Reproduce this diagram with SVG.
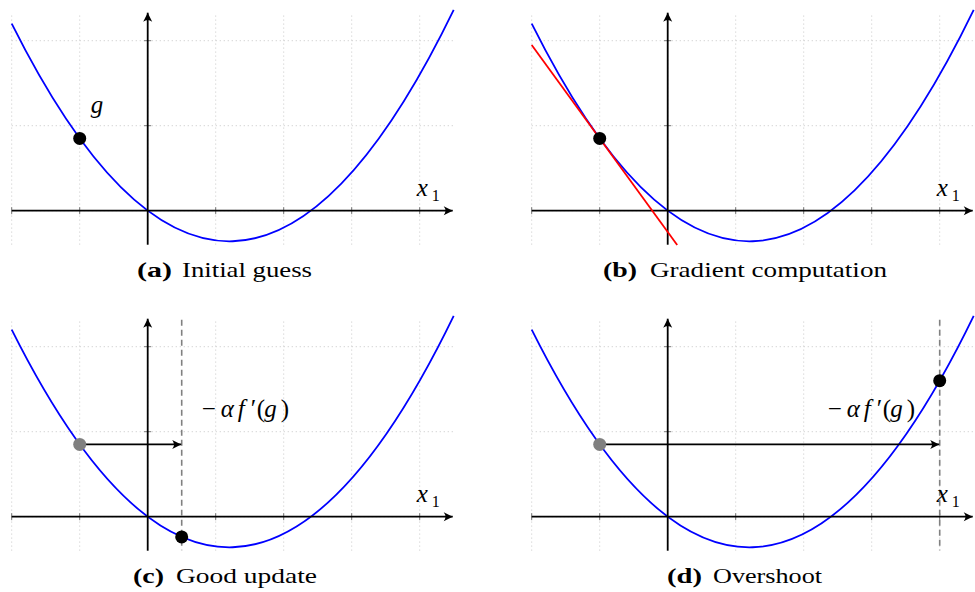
<svg xmlns="http://www.w3.org/2000/svg" width="975" height="592" viewBox="0 0 975 592">
<style>
.grid{stroke:#c4c4c4;stroke-width:0.8;stroke-dasharray:1.2 2.8;fill:none}
.axis{stroke:#000;stroke-width:1.8;fill:none}
.tick{stroke:#555;stroke-width:0.8}
.curve{stroke:#0000ff;stroke-width:1.8;fill:none}
.tan{stroke:#ff0000;stroke-width:1.8;fill:none}
.dash{stroke:#808080;stroke-width:1.6;stroke-dasharray:6 4;fill:none}
.step{stroke:#000;stroke-width:1.8;fill:none}
.math{font-family:"Liberation Serif","Times New Roman",serif;font-style:italic;font-size:25px;fill:#000}
.rm{font-style:normal}
.sub{font-family:"Liberation Serif","Times New Roman",serif;font-size:16px;fill:#000}
.cap{font-family:"Liberation Serif","Times New Roman",serif;font-size:22px;fill:#000}
.capb{font-family:"Liberation Serif","Times New Roman",serif;font-size:22px;font-weight:bold;fill:#000}
</style>
<defs>
<marker id="ah" viewBox="-10 -5 11 10" refX="0.5" refY="0" markerWidth="11" markerHeight="10" orient="auto" markerUnits="userSpaceOnUse">
<path d="M0.5,0 L-8.5,-4.5 Q-5,0 -8.5,4.5 Z" fill="#000"/>
</marker>
<g id="grid">
<path class="grid" d="M-136,34V-196 M-68,34V-196 M0,34V-196 M68,34V-196 M136,34V-196 M204,34V-196 M272,34V-196 M-136,-85H306 M-136,-170H306 M-136,0H306"/>
</g>
<g id="axes">
<path class="tick" d="M-136,-3.5V3.5 M-68,-3.5V3.5 M68,-3.5V3.5 M136,-3.5V3.5 M204,-3.5V3.5 M272,-3.5V3.5 M-3.5,-85H3.5 M-3.5,-170H3.5"/>
<line class="axis" x1="-136" y1="0" x2="305" y2="0" marker-end="url(#ah)"/>
<line class="axis" x1="0" y1="34" x2="0" y2="-198" marker-end="url(#ah)"/>
</g>
<path id="parab" class="curve" d="M-136,-187 Q85,255 306,-200.8"/>
</defs>

<!-- Panel (a) -->
<g id="panel-a" transform="translate(147.7,210.7)">
<use href="#grid"/>
<use href="#parab"/>
<g id="a-connectors"><use href="#axes"/></g>
<g id="a-point"><circle cx="-68" cy="-72.25" r="6.5" fill="#000"/></g>
<g id="a-label-g"><text class="math" x="-57" y="-98">g</text></g>
<g id="a-label-x1"><text class="math" x="269" y="-15">x</text><text class="sub" x="284" y="-10">1</text></g>
</g>
<g id="caption-a"><text class="capb" x="137" y="277" textLength="35" lengthAdjust="spacingAndGlyphs">(a)</text><text class="cap" x="182" y="277" textLength="130" lengthAdjust="spacingAndGlyphs">Initial guess</text></g>

<!-- Panel (b) -->
<g id="panel-b" transform="translate(667.7,210.7)">
<use href="#grid"/>
<use href="#parab"/>
<g id="b-connectors"><use href="#axes"/></g>
<g id="b-tangent"><line class="tan" x1="-136" y1="-165.75" x2="9.5" y2="34.3"/></g>
<g id="b-point"><circle cx="-68" cy="-72.25" r="6.5" fill="#000"/></g>
<g id="b-label-x1"><text class="math" x="269" y="-15">x</text><text class="sub" x="284" y="-10">1</text></g>
</g>
<g id="caption-b"><text class="capb" x="603" y="277" textLength="34" lengthAdjust="spacingAndGlyphs">(b)</text><text class="cap" x="650" y="277" textLength="237" lengthAdjust="spacingAndGlyphs">Gradient computation</text></g>

<!-- Panel (c) -->
<g id="panel-c" transform="translate(147.7,516.7)">
<use href="#grid"/>
<use href="#parab"/>
<g id="c-connectors">
<use href="#axes"/>
<line class="dash" x1="34" y1="-197" x2="34" y2="33.5"/>
<line class="step" x1="-68" y1="-72.25" x2="33.5" y2="-72.25" marker-end="url(#ah)"/>
</g>
<g id="c-start"><circle cx="-68" cy="-72.25" r="6.5" fill="#808080"/></g>
<g id="c-end"><circle cx="34" cy="20.2" r="6.5" fill="#000"/></g>
<g id="c-label-step"><text class="math" y="-99.7"><tspan class="rm" x="54">−</tspan><tspan x="73">α</tspan><tspan x="90">f</tspan><tspan class="rm" x="103">′</tspan><tspan class="rm" x="109">(</tspan><tspan x="116.5">g</tspan><tspan class="rm" x="133">)</tspan></text></g>
<g id="c-label-x1"><text class="math" x="269" y="-15">x</text><text class="sub" x="284" y="-10">1</text></g>
</g>
<g id="caption-c"><text class="capb" x="133" y="583" textLength="31" lengthAdjust="spacingAndGlyphs">(c)</text><text class="cap" x="176" y="583" textLength="141" lengthAdjust="spacingAndGlyphs">Good update</text></g>

<!-- Panel (d) -->
<g id="panel-d" transform="translate(667.7,516.7)">
<use href="#grid"/>
<use href="#parab"/>
<g id="d-connectors">
<use href="#axes"/>
<line class="dash" x1="272" y1="-197" x2="272" y2="33.5"/>
<line class="step" x1="-68" y1="-72.25" x2="271.5" y2="-72.25" marker-end="url(#ah)"/>
</g>
<g id="d-start"><circle cx="-68" cy="-72.25" r="6.5" fill="#808080"/></g>
<g id="d-end"><circle cx="272" cy="-136" r="6.5" fill="#000"/></g>
<g id="d-label-step"><text class="math" y="-99.7"><tspan class="rm" x="160">−</tspan><tspan x="179">α</tspan><tspan x="196">f</tspan><tspan class="rm" x="209">′</tspan><tspan class="rm" x="215">(</tspan><tspan x="222.5">g</tspan><tspan class="rm" x="239">)</tspan></text></g>
<g id="d-label-x1"><text class="math" x="269" y="-15">x</text><text class="sub" x="284" y="-10">1</text></g>
</g>
<g id="caption-d"><text class="capb" x="667" y="583" textLength="35" lengthAdjust="spacingAndGlyphs">(d)</text><text class="cap" x="713" y="583" textLength="109" lengthAdjust="spacingAndGlyphs">Overshoot</text></g>
</svg>
